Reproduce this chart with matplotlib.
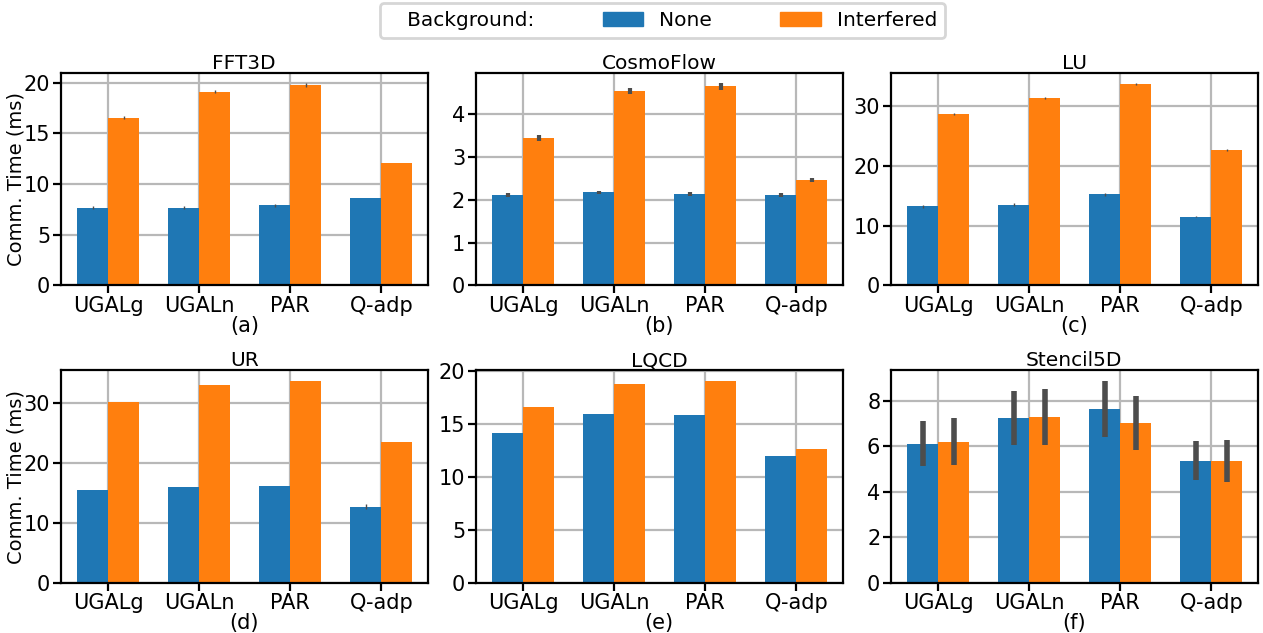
import numpy as np
import matplotlib.pyplot as plt
from matplotlib.patches import Patch

routings = ["UGALg", "UGALn", "PAR", "Q-adp"]
apps = ["FFT3D", "CosmoFlow", "LU", "UR", "LQCD", "Stencil5D"]
sublabels = ["(a)", "(b)", "(c)", "(d)", "(e)", "(f)"]

# mean communication time (ms), no background traffic
none_mean = [
    [7.64, 7.64, 7.93, 8.62],
    [2.11, 2.17, 2.13, 2.11],
    [13.2, 13.5, 15.2, 11.5],
    [15.4, 15.9, 16.1, 12.7],
    [14.2, 16.0, 15.9, 11.95],
    [6.10, 7.24, 7.63, 5.35],
]
# mean communication time (ms), interfered
intf_mean = [
    [16.55, 19.1, 19.78, 12.05],
    [3.44, 4.54, 4.65, 2.46],
    [28.7, 31.3, 33.65, 22.65],
    [30.2, 32.9, 33.7, 23.4],
    [16.6, 18.75, 19.12, 12.7],
    [6.18, 7.28, 7.02, 5.35],
]
# error bar low / high ends
none_lo = [
    [7.49, 7.49, 7.78, 8.62],
    [2.07, 2.13, 2.09, 2.07],
    [13.0, 13.3, 15.0, 11.4],
    [15.4, 15.9, 16.1, 12.3],
    [14.2, 16.0, 15.9, 11.95],
    [5.13, 6.05, 6.39, 4.51],
]
none_hi = [
    [7.79, 7.79, 8.08, 8.62],
    [2.15, 2.21, 2.17, 2.15],
    [13.4, 13.7, 15.4, 11.6],
    [15.4, 15.9, 16.1, 13.1],
    [14.2, 16.0, 15.9, 11.95],
    [7.11, 8.42, 8.88, 6.23],
]
intf_lo = [
    [16.4, 18.94, 19.58, 12.05],
    [3.37, 4.48, 4.57, 2.42],
    [28.5, 31.1, 33.45, 22.5],
    [30.2, 32.9, 33.7, 23.4],
    [16.6, 18.75, 19.12, 12.7],
    [5.17, 6.05, 5.83, 4.42],
]
intf_hi = [
    [16.7, 19.26, 19.98, 12.05],
    [3.51, 4.60, 4.73, 2.50],
    [28.9, 31.5, 33.85, 22.8],
    [30.2, 32.9, 33.7, 23.4],
    [16.6, 18.75, 19.12, 12.7],
    [7.22, 8.51, 8.20, 6.27],
]
yticks = [
    [0, 5, 10, 15, 20],
    [0, 1, 2, 3, 4],
    [0, 10, 20, 30],
    [0, 10, 20, 30],
    [0, 5, 10, 15, 20],
    [0, 2, 4, 6, 8],
]
err_lw = [1.0, 3.0, 1.0, 1.0, 1.0, 4.0]

blue = "#1f77b4"
orange = "#ff7f0e"
w = 0.34

fig, axes = plt.subplots(2, 3, figsize=(12.63, 6.33), dpi=100)
fig.subplots_adjust(left=0.048, right=0.996, top=0.885, bottom=0.079,
                    wspace=0.13, hspace=0.40)

x = np.arange(len(routings))
for i, ax in enumerate(axes.flat):
    nm = np.array(none_mean[i])
    im = np.array(intf_mean[i])
    nerr = [nm - np.array(none_lo[i]), np.array(none_hi[i]) - nm]
    ierr = [im - np.array(intf_lo[i]), np.array(intf_hi[i]) - im]
    ek = dict(ecolor="#4d4d4d", elinewidth=err_lw[i], capsize=0)
    ax.bar(x - w / 2, nm, w, color=blue, yerr=nerr, error_kw=ek, zorder=2)
    ax.bar(x + w / 2, im, w, color=orange, yerr=ierr, error_kw=ek, zorder=2)

    ax.set_axisbelow(True)
    ax.grid(True, color="#b8b8b8", linewidth=1.6)
    ax.set_xlim(-0.52, 3.51)
    ax.set_xticks(x)
    ax.set_xticklabels(routings)
    ax.set_yticks(yticks[i])
    ax.tick_params(axis="both", labelsize=15, length=5.5, width=1.6, pad=2)
    for s in ax.spines.values():
        s.set_linewidth(1.6)
    ax.set_title(apps[i], fontsize=14.5, pad=2)
    ax.set_xlabel(sublabels[i], fontsize=15, labelpad=0)
    if i % 3 == 0:
        ax.set_ylabel("Comm. Time (ms)", fontsize=14, labelpad=-1)

handles = [Patch(color=blue), Patch(color=orange)]
labels = ["None", "Interfered"]
leg = fig.legend(handles, labels, loc="upper center", ncol=2,
                 title="   Background:", title_fontsize=14.5,
                 bbox_to_anchor=(0.5245, 1.011), fontsize=14.5, frameon=True,
                 fancybox=True, handlelength=2.0, handletextpad=0.8,
                 columnspacing=3.4)
leg.get_frame().set_edgecolor("#cccccc")
leg.get_frame().set_linewidth(2)
# put the title on the same row as the entries
box = leg.get_children()[0]
title_box, handle_box = box.get_children()[:2]
box._children = [handle_box]
handle_box._children = [title_box] + handle_box.get_children()

fig.savefig("out.png", dpi=100)
